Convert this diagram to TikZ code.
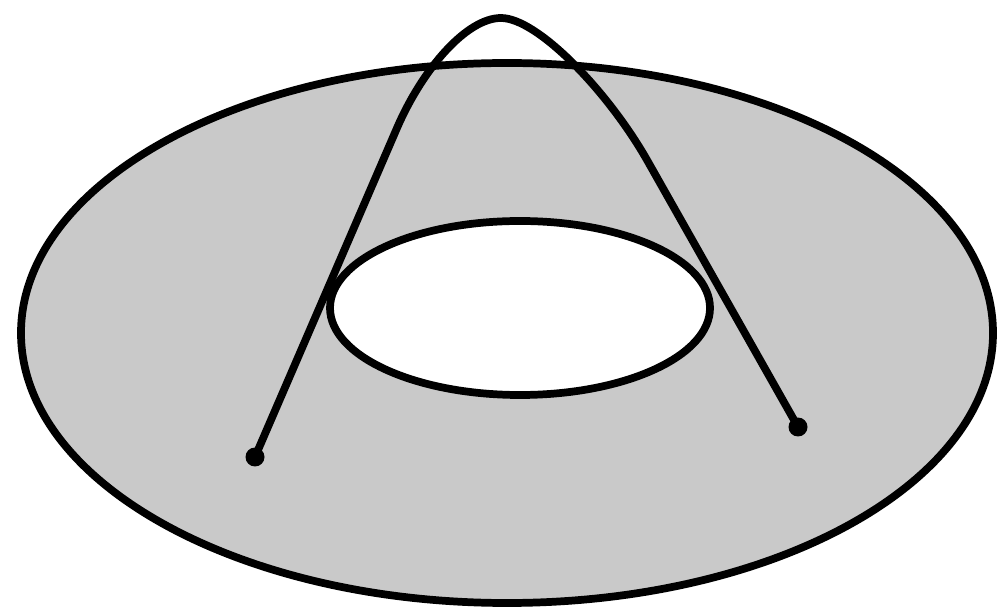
\documentclass[tikz,border=0pt]{standalone}
\begin{document}
\begin{tikzpicture}[x=0.02cm,y=-0.02cm,
  outline/.style={line width=4.4pt,draw=black},
  dotnode/.style={circle,fill=black,inner sep=0pt,minimum size=0.38cm}]
\useasboundingbox (0,0) rectangle (1000,614);
\fill[white] (0,0) rectangle (1000,614);
% annulus
\draw[outline,fill=black!21] (507,333) ellipse [x radius=486, y radius=270];
\draw[outline,fill=white] (520,308) ellipse [x radius=190, y radius=87];
% end points
\node[dotnode] (a) at (255,457) {};
\node[dotnode] (b) at (798,427) {};
\coordinate (l) at (397,128);
\coordinate (top) at (501,18);
\coordinate (r) at (647,160);
\draw[line width=4.4pt,line cap=round,line join=round]
  (a.center) -- (l) .. controls (423,68) and (467,18) .. (top)
  .. controls (537,18) and (607,90) .. (r) -- (b.center);
\end{tikzpicture}
\end{document}
